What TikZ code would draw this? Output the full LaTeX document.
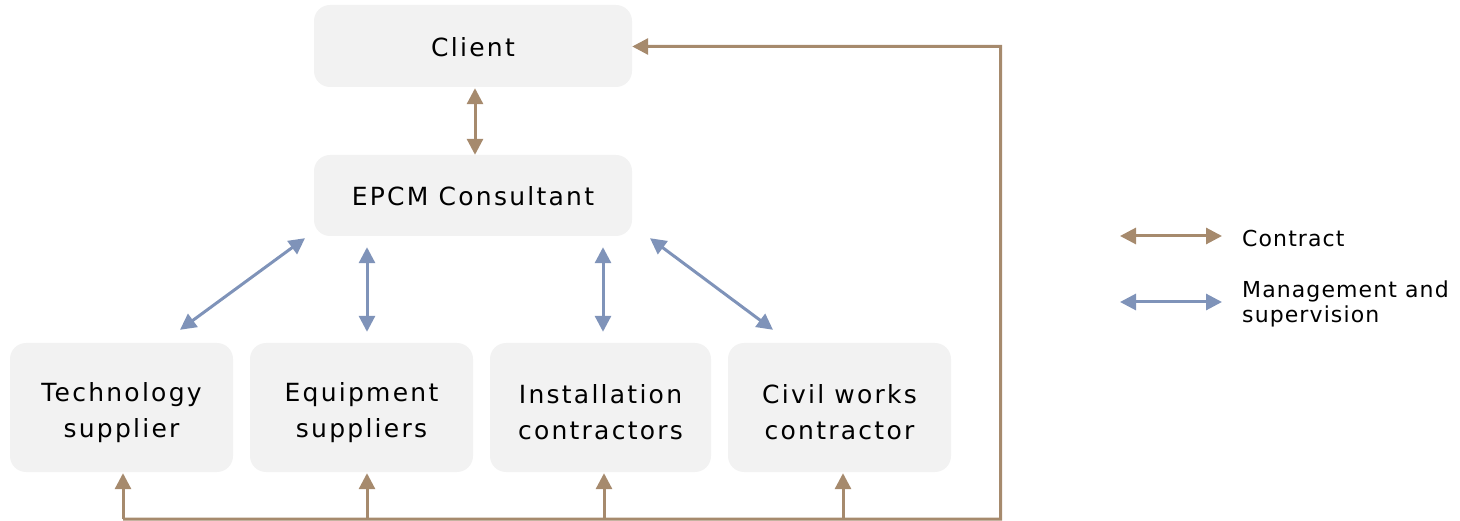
\documentclass[tikz,border=0pt]{standalone}
\usepackage{fontspec}
\setmainfont{DejaVu Sans}[LetterSpace=9]
\usetikzlibrary{arrows.meta,calc}
\definecolor{contractc}{HTML}{A68A6D}
\definecolor{managec}{HTML}{7F93B9}
\definecolor{boxfill}{HTML}{F2F2F2}
\begin{document}
\begin{tikzpicture}[x=1pt,y=-1pt,
  >={Triangle[length=16pt,width=16pt]},
  party/.style={fill=boxfill, rounded corners=16pt, inner sep=0pt},
  partytext/.style={align=center, inner sep=0pt, font=\fontsize{25}{36}\selectfont},
  contract/.style={draw=contractc, line width=3pt},
  manage/.style={draw=managec, line width=3pt},
  legendtext/.style={anchor=west, align=left, inner sep=0pt,
    font=\fontsize{22}{25}\selectfont\addfontfeatures{LetterSpace=5}}]
\useasboundingbox (0,0) rectangle (1460,521);

% parties
\node[party, minimum width=318pt, minimum height=82pt] (client) at (473,46) {};
\node[party, minimum width=318pt, minimum height=81pt] (epcm) at (473,195.5) {};
\node[party, minimum width=223pt, minimum height=129pt] (tech) at (121.5,407.5) {};
\node[party, minimum width=223pt, minimum height=129pt] (equip) at (361.5,407.5) {};
\node[party, minimum width=221pt, minimum height=129pt] (inst) at (600.5,407.5) {};
\node[party, minimum width=223pt, minimum height=129pt] (civil) at (839.5,407.5) {};

\node[partytext] (clientl) at ($(client.center)+(0,1)$) {Client};
\node[partytext] (epcml) at ($(epcm.center)+(0,1)$) {EPCM Consultant};
\node[partytext] (techl) at ($(tech.center)+(0,5)$) {Technology\\supplier};
\node[partytext] (equipl) at ($(equip.center)+(0,5)$) {Equipment\\suppliers};
\node[partytext] (instl) at ($(inst.center)+(0,5)$) {Installation\\contractors};
\node[partytext] (civill) at ($(civil.center)+(0,5)$) {Civil works\\contractor};

% contract between client and consultant
\draw[contract, <->] ($(client.south)+(2,1)$) -- ($(epcm.north)+(2,0)$);

% management and supervision by the consultant
\draw[manage, <->] ($(epcm.south)+(-168,2)$) -- ($(tech.north)+(58.5,-13)$);
\draw[manage, <->] ($(epcm.south)+(-106,11)$) -- ($(equip.north)+(5.5,-11)$);
\draw[manage, <->] ($(epcm.south)+(130,11)$) -- ($(inst.north)+(2.5,-11)$);
\draw[manage, <->] ($(epcm.south)+(177,2)$) -- ($(civil.north)+(-66.5,-13)$);

% contracts from the client to every supplier and contractor
\coordinate (busL) at ($(tech.south)+(1.5,47)$);
\coordinate (busR) at (1000.5,519);
\coordinate (busT) at (1000.5,46.5);
\draw[contract, line join=miter, ->] (busL) -- (busR) -- (busT) -- (client.east |- busT);
\draw[contract, ->] (busL) -- ($(tech.south)+(1.5,1)$);
\draw[contract, ->] ($(equip.south)+(5.5,47)$) -- ($(equip.south)+(5.5,1)$);
\draw[contract, ->] ($(inst.south)+(3.5,47)$) -- ($(inst.south)+(3.5,1)$);
\draw[contract, ->] ($(civil.south)+(3.5,47)$) -- ($(civil.south)+(3.5,1)$);

% legend
\coordinate (lc1) at (1120,236);
\coordinate (lc2) at (1222,236);
\coordinate (lm1) at (1120,302);
\coordinate (lm2) at (1222,302);
\draw[contract, <->] (lc1) -- (lc2);
\draw[manage, <->] (lm1) -- (lm2);
\node[legendtext] (lct) at (1242,238) {Contract};
\node[legendtext] (lmt) at (1242,303.5) {Management and\\supervision};
\end{tikzpicture}
\end{document}
